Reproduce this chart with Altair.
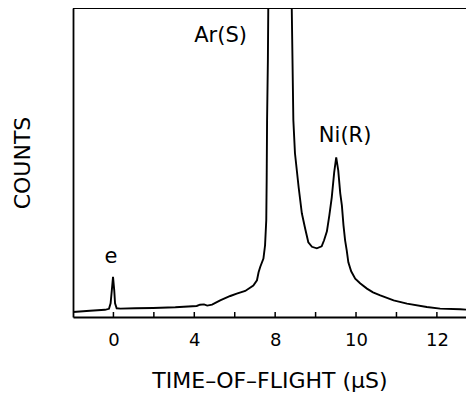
import altair as alt
import pandas as pd

# Time-of-flight spectrum: x in axis-position units (one unit per tick), y in counts (arbitrary)
tof_pos = [-1.00, -0.58, -0.21, -0.11, -0.07, -0.04, -0.01, 0.02, 0.04, 0.08,
           0.17, 0.54, 0.98, 1.53, 2.06, 2.14, 2.24, 2.32, 2.44, 2.64,
           2.89, 3.05, 3.26, 3.46, 3.55, 3.59, 3.63, 3.71, 3.75, 3.78,
           3.79, 3.80, 3.82, 3.83, 4.00, 4.20, 4.32, 4.41, 4.45, 4.49,
           4.58, 4.66, 4.74, 4.82, 4.91, 5.03, 5.15, 5.21, 5.28, 5.34,
           5.40, 5.46, 5.51, 5.56, 5.61, 5.65, 5.69, 5.73, 5.77, 5.81,
           5.88, 5.98, 6.10, 6.27, 6.42, 6.60, 6.93, 7.26, 7.75, 8.08,
           8.58, 8.72]
counts = [5.0, 6.2, 7.2, 8.2, 13.7, 26.7, 40.2, 26.7, 13.7, 8.7,
          8.4, 8.7, 9.0, 9.7, 11.0, 12.3, 12.6, 11.4, 12.3, 16.7,
          21.0, 23.4, 26.0, 31.4, 36.7, 44.7, 50.0, 58.4, 71.7, 96.7,
          136.7, 196.7, 256.7, 310.7, 420.0, 440.0, 400.0, 310.0, 196.7, 163.7,
          130.0, 103.7, 88.7, 74.7, 70.2, 68.7, 70.7, 76.7, 85.7, 101.7,
          119.7, 144.7, 159.7, 146.7, 123.7, 111.7, 91.7, 76.7, 66.7, 54.7,
          45.7, 38.4, 33.7, 28.4, 24.7, 21.7, 16.7, 13.4, 10.0, 8.4,
          7.7, 7.4]

tick_pos = [0, 1, 2, 3, 4, 5, 6, 7, 8]
label_pos = [0, 2, 4, 6, 8]
label_txt = ["0", "4", "8", "10", "12"]

ann_txt = ["e", "Ar(S)", "Ni(R)"]
ann_x = [-0.06, 2.65, 5.73]
ann_y = [59.7, 280.7, 180.7]

W, H = 393, 309
FONT = "DejaVu Sans"

df = pd.DataFrame({"t": tof_pos, "c": counts})
ticks = pd.DataFrame({"t": tick_pos})
ann = pd.DataFrame({"txt": ann_txt, "t": ann_x, "c": ann_y})

label_expr = " : ".join(
    f"datum.value == {p} ? '{s}'" for p, s in zip(label_pos, label_txt)
) + " : ''"

xscale = alt.Scale(domain=[-1, 8.72], nice=False, zero=False)
yscale = alt.Scale(domain=[0, 309], nice=False, zero=False)

line = alt.Chart(df).mark_line(color="black", strokeWidth=1.9, clip=True).encode(
    x=alt.X("t:Q", scale=xscale,
            axis=alt.Axis(values=label_pos, labelExpr=label_expr, tickSize=0,
                          grid=False, domainColor="black", domainWidth=1.8,
                          labelFont=FONT, labelFontSize=18, labelColor="black",
                          labelPadding=14, labelFlush=False,
                          title="TIME–OF–FLIGHT  (μS)", titleFont=FONT,
                          titleFontSize=22, titleFontWeight="normal",
                          titleColor="black", titlePadding=21)),
    y=alt.Y("c:Q", scale=yscale,
            axis=alt.Axis(labels=False, ticks=False, grid=False,
                          domainColor="black", domainWidth=1.8,
                          title="COUNTS", titleFont=FONT, titleFontSize=22,
                          titleFontWeight="normal", titleColor="black",
                          titlePadding=39)),
)

tick_rules = alt.Chart(ticks).mark_rule(color="black", strokeWidth=1.5).encode(
    x=alt.X("t:Q", scale=xscale),
    y=alt.value(H - 5),
    y2=alt.value(H),
)

top_rule = alt.Chart(ticks).mark_rule(color="black", strokeWidth=1.8).encode(
    x=alt.value(0), x2=alt.value(W), y=alt.value(0)
)

labels = alt.Chart(ann).mark_text(font=FONT, fontSize=21, color="black").encode(
    x=alt.X("t:Q", scale=xscale),
    y=alt.Y("c:Q", scale=yscale),
    text="txt:N",
)

chart = alt.layer(line, tick_rules, top_rule, labels).properties(
    width=W, height=H,
    autosize=alt.AutoSizeParams(type="none"),
    padding={"left": 65, "top": 0, "right": 0, "bottom": 83},
).configure_view(stroke=None).configure(background="white")

chart.save("out.html", embed_options={"renderer": "svg", "actions": False})
